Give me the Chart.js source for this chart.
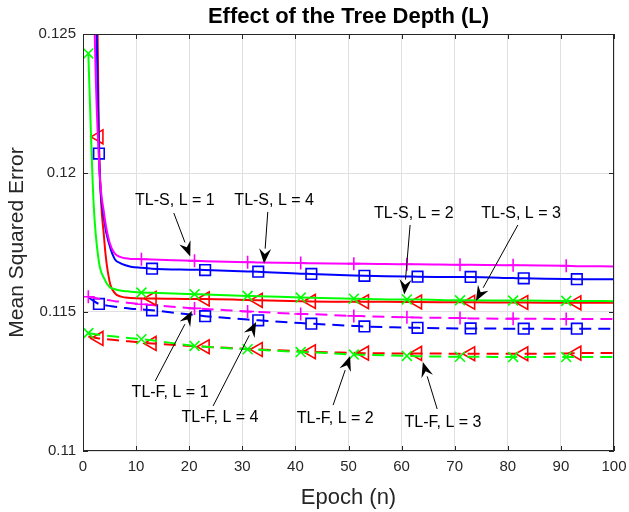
<!DOCTYPE html>
<html>
<head>
<meta charset="utf-8">
<script src="https://cdn.jsdelivr.net/npm/chart.js@4.4.1/dist/chart.umd.min.js"></script>
<style>
  html, body { margin: 0; padding: 0; background: #fff; }
  #wrap { width: 629px; height: 512px; }
</style>
</head>
<body>
<div id="wrap"><canvas id="grafica" width="629" height="512"></canvas></div>
<script>
// Epocas muestreadas (eje x)
const epocas = [1, 2, 3, 4, 5, 6, 7, 8, 9, 11, 13, 21, 23, 31, 33, 41, 43, 51, 53, 61, 63, 71, 73, 81, 83, 91, 93, 100];

// Epocas donde se dibujan los marcadores
const marcasUno = [1, 11, 21, 31, 41, 51, 61, 71, 81, 91];
const marcasTres = [3, 13, 23, 33, 43, 53, 63, 73, 83, 93];

// TL-S (lineas continuas)
const tlS1 = [0.150, 0.1275, 0.1205, 0.1185, 0.1175, 0.1171, 0.11698, 0.11693, 0.11691, 0.11690, 0.11689, 0.11684, 0.11683, 0.11679, 0.11678, 0.11676, 0.11675, 0.11674, 0.11674, 0.11672, 0.11672, 0.11670, 0.11670, 0.11668, 0.11668, 0.11666, 0.11665, 0.11664];
const tlS2 = [0.1243, 0.1189, 0.1168, 0.1162, 0.1159, 0.11582, 0.11577, 0.11575, 0.11573, 0.11570, 0.11569, 0.11564, 0.11563, 0.11558, 0.11557, 0.11552, 0.11551, 0.11548, 0.11547, 0.11545, 0.11545, 0.11542, 0.11542, 0.11541, 0.11541, 0.11540, 0.11540, 0.11539];
const tlS3 = [0.170, 0.136, 0.1213, 0.1176, 0.1161, 0.11568, 0.11556, 0.11552, 0.11550, 0.11549, 0.11549, 0.11547, 0.11547, 0.11543, 0.11542, 0.11539, 0.11538, 0.11537, 0.11537, 0.11536, 0.11536, 0.11535, 0.11535, 0.11534, 0.11534, 0.11533, 0.11533, 0.11533];
const tlS4 = [0.140, 0.131, 0.1207, 0.1183, 0.1174, 0.1169, 0.11676, 0.11668, 0.11663, 0.11659, 0.11656, 0.11652, 0.11651, 0.11646, 0.11645, 0.11638, 0.11637, 0.11631, 0.11630, 0.11628, 0.11627, 0.11626, 0.11626, 0.11622, 0.11621, 0.11619, 0.11618, 0.11618];

// TL-F (lineas discontinuas)
const tlF1 = [0.11555, 0.11551, 0.11548, 0.11545, 0.11542, 0.11539, 0.11537, 0.11534, 0.11532, 0.11528, 0.11525, 0.11513, 0.11511, 0.11502, 0.11500, 0.11493, 0.11492, 0.11486, 0.11485, 0.11481, 0.11480, 0.11478, 0.11477, 0.11476, 0.11476, 0.11475, 0.11475, 0.11475];
const tlF2 = [0.11424, 0.11421, 0.11418, 0.11416, 0.11414, 0.11412, 0.11410, 0.11408, 0.11406, 0.11402, 0.11398, 0.11378, 0.11375, 0.11366, 0.11364, 0.11356, 0.11355, 0.11347, 0.11346, 0.11342, 0.11341, 0.11339, 0.11339, 0.11338, 0.11338, 0.11338, 0.11338, 0.11338];
const tlF3 = [0.11412, 0.11408, 0.11405, 0.11403, 0.11401, 0.11399, 0.11397, 0.11395, 0.11394, 0.11390, 0.11387, 0.11377, 0.11375, 0.11367, 0.11365, 0.11359, 0.11357, 0.11353, 0.11352, 0.11351, 0.11351, 0.11350, 0.11350, 0.11350, 0.11350, 0.11351, 0.11352, 0.11353];
const tlF4 = [0.11553, 0.11540, 0.11529, 0.11525, 0.11522, 0.11519, 0.11517, 0.11514, 0.11512, 0.11509, 0.11506, 0.11489, 0.11485, 0.11473, 0.11470, 0.11460, 0.11458, 0.11450, 0.11448, 0.11444, 0.11443, 0.11441, 0.11441, 0.11440, 0.11440, 0.11440, 0.11440, 0.11440];

// Marcas de los ejes
const ticksX = [0, 10, 20, 30, 40, 50, 60, 70, 80, 90, 100];
const ticksY = [0.11, 0.115, 0.12, 0.125];

// Textos con flecha (coordenadas en unidades de datos)
const anotaciones = [
    { texto: 'TL-S, L = 1', pos: [17.3, 0.11899], cola: [17.1, 0.11856], punta: [20.2, 0.11700] },
    { texto: 'TL-S, L = 4', pos: [36.0, 0.11899], cola: [34.8, 0.11860], punta: [34.1, 0.11674] },
    { texto: 'TL-S, L = 2', pos: [62.3, 0.11853], cola: [61.6, 0.11813], punta: [60.5, 0.11563] },
    { texto: 'TL-S, L = 3', pos: [82.5, 0.11853], cola: [81.9, 0.11813], punta: [74.0, 0.11540] },
    { texto: 'TL-F, L = 1', pos: [16.4, 0.11209], cola: [13.6, 0.11252], punta: [20.5, 0.11504] },
    { texto: 'TL-F, L = 4', pos: [25.8, 0.11119], cola: [24.5, 0.11162], punta: [32.6, 0.11464] },
    { texto: 'TL-F, L = 2', pos: [47.5, 0.11115], cola: [47.1, 0.11165], punta: [50.3, 0.11342] },
    { texto: 'TL-F, L = 3', pos: [67.8, 0.11101], cola: [66.7, 0.11151], punta: [64.0, 0.11320] }
];

const FUENTE = '"Liberation Sans", Arial, Helvetica, sans-serif';

function crearSerie(label, valores, color, discontinua, estilo, marcas, radio, rotacion) {
    return {
        label: label,
        data: epocas.map((x, i) => ({ x: x, y: valores[i] })),
        borderColor: color,
        borderWidth: 2,
        borderDash: discontinua ? [12, 7] : [],
        cubicInterpolationMode: 'monotone',
        fill: false,
        pointStyle: estilo,
        pointRotation: rotacion || 0,
        pointRadius: ctx => marcas.includes(epocas[ctx.dataIndex]) ? radio : 0,
        pointHoverRadius: 0,
        pointBorderColor: color,
        pointBackgroundColor: 'rgba(0,0,0,0)',
        pointBorderWidth: 1.6
    };
}

// Marco completo con marcas hacia dentro (estilo MATLAB)
const marcoPlugin = {
    id: 'marco',
    afterDatasetsDraw(chart) {
        const { ctx, chartArea: a, scales } = chart;
        ctx.save();
        ctx.strokeStyle = '#262626';
        ctx.lineWidth = 1;
        ctx.strokeRect(a.left + 0.5, a.top + 0.5, a.right - a.left - 1, a.bottom - a.top - 1);
        ctx.beginPath();
        ticksX.forEach(v => {
            const px = Math.round(scales.x.getPixelForValue(v)) + 0.5;
            ctx.moveTo(px, a.bottom); ctx.lineTo(px, a.bottom - 5);
            ctx.moveTo(px, a.top); ctx.lineTo(px, a.top + 5);
        });
        ticksY.forEach(v => {
            const py = Math.round(scales.y.getPixelForValue(v)) + 0.5;
            ctx.moveTo(a.left, py); ctx.lineTo(a.left + 5, py);
            ctx.moveTo(a.right, py); ctx.lineTo(a.right - 5, py);
        });
        ctx.stroke();
        ctx.restore();
    }
};

// Textos con flecha y titulo
const anotacionesPlugin = {
    id: 'anotaciones',
    afterDraw(chart) {
        const { ctx, scales, chartArea } = chart;
        const px = v => scales.x.getPixelForValue(v);
        const py = v => scales.y.getPixelForValue(v);
        ctx.save();
        ctx.font = '16px ' + FUENTE;
        ctx.textAlign = 'center';
        ctx.textBaseline = 'middle';
        anotaciones.forEach(a => {
            ctx.fillStyle = '#000';
            ctx.fillText(a.texto, px(a.pos[0]), py(a.pos[1]));
            const x0 = px(a.cola[0]), y0 = py(a.cola[1]);
            const x1 = px(a.punta[0]), y1 = py(a.punta[1]);
            const ang = Math.atan2(y1 - y0, x1 - x0);
            const largo = 15, ancho = 6;
            const bx = x1 - largo * Math.cos(ang), by = y1 - largo * Math.sin(ang);
            ctx.strokeStyle = '#000';
            ctx.lineWidth = 1;
            ctx.beginPath();
            ctx.moveTo(x0, y0);
            ctx.lineTo(bx, by);
            ctx.stroke();
            ctx.beginPath();
            ctx.moveTo(x1, y1);
            ctx.lineTo(bx + ancho * Math.sin(ang), by - ancho * Math.cos(ang));
            ctx.lineTo(bx + 0.35 * largo * Math.cos(ang), by + 0.35 * largo * Math.sin(ang));
            ctx.lineTo(bx - ancho * Math.sin(ang), by + ancho * Math.cos(ang));
            ctx.closePath();
            ctx.fill();
        });
        // Titulo
        ctx.font = 'bold 22px ' + FUENTE;
        ctx.fillStyle = '#000';
        ctx.fillText('Effect of the Tree Depth (L)', (chartArea.left + chartArea.right) / 2, 17);
        ctx.restore();
    }
};

document.addEventListener('DOMContentLoaded', function() {
    const ctx = document.getElementById('grafica');
    new Chart(ctx, {
        type: 'line',
        data: {
            datasets: [
                crearSerie('TL-S, L = 1', tlS1, '#ff00ff', false, 'cross', marcasUno, 6.5),
                crearSerie('TL-S, L = 4', tlS4, '#0000ff', false, 'rect', marcasTres, 7.5),
                crearSerie('TL-S, L = 2', tlS2, '#00ff00', false, 'crossRot', marcasUno, 7),
                crearSerie('TL-S, L = 3', tlS3, '#ff0000', false, 'triangle', marcasTres, 8, -90),
                crearSerie('TL-F, L = 1', tlF1, '#ff00ff', true, 'cross', marcasUno, 6.5),
                crearSerie('TL-F, L = 4', tlF4, '#0000ff', true, 'rect', marcasTres, 7.5),
                crearSerie('TL-F, L = 2', tlF2, '#00ff00', true, 'crossRot', marcasUno, 7),
                crearSerie('TL-F, L = 3', tlF3, '#ff0000', true, 'triangle', marcasTres, 8, -90)
            ]
        },
        options: {
            responsive: false,
            devicePixelRatio: 1,
            animation: false,
            layout: { padding: { left: 0, right: 15, top: 34, bottom: 0 } },
            plugins: {
                legend: { display: false },
                tooltip: { enabled: false },
                title: { display: false }
            },
            scales: {
                x: {
                    type: 'linear',
                    min: 0,
                    max: 100,
                    afterFit: s => { s.height = 61; s.paddingLeft = 0; s.paddingRight = 0; },
                    afterBuildTicks: s => { s.ticks = ticksX.map(v => ({ value: v })); },
                    grid: { color: '#e0e0e0', drawTicks: false },
                    border: { display: false },
                    ticks: { color: '#262626', padding: 7, maxRotation: 0, font: { family: FUENTE, size: 15 } },
                    title: { display: true, text: 'Epoch (n)', color: '#262626', padding: { top: 0, bottom: 1 }, font: { family: FUENTE, size: 22 } }
                },
                y: {
                    min: 0.11,
                    max: 0.125,
                    afterFit: s => { s.width = 83; s.paddingTop = 0; s.paddingBottom = 0; },
                    afterBuildTicks: s => { s.ticks = ticksY.map(v => ({ value: v })); },
                    grid: { color: '#e0e0e0', drawTicks: false },
                    border: { display: false },
                    ticks: { color: '#262626', padding: 7, font: { family: FUENTE, size: 15 }, callback: v => String(+v.toFixed(3)) },
                    title: { display: true, text: 'Mean Squared Error', color: '#262626', padding: { top: 5, bottom: 0 }, font: { family: FUENTE, size: 21 } }
                }
            }
        },
        plugins: [marcoPlugin, anotacionesPlugin]
    });
});
</script>
</body>
</html>
